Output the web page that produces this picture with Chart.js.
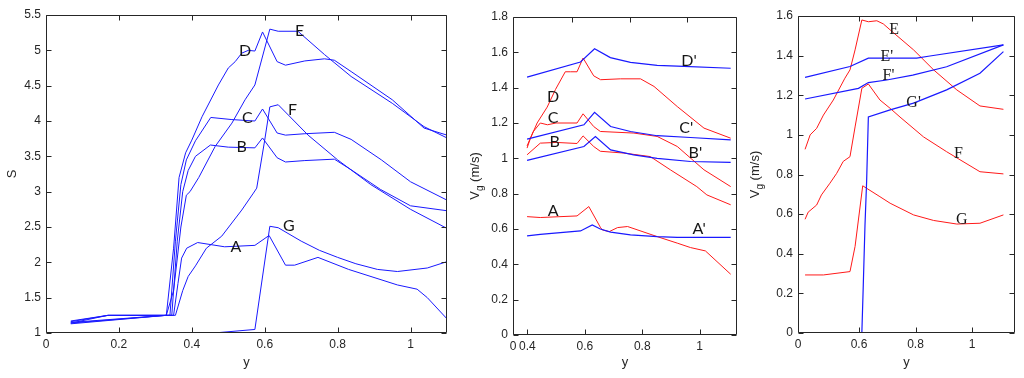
<!DOCTYPE html>
<html><head><meta charset="utf-8">
<script src="https://cdn.jsdelivr.net/npm/chart.js@4.4.0/dist/chart.umd.min.js"></script>
<style>
html,body{margin:0;padding:0;background:#fff;width:1024px;height:378px;overflow:hidden}
canvas{position:absolute;top:0}
</style></head><body>
<canvas id="c1" width="460" height="378" style="left:0px"></canvas>
<canvas id="c2" width="290" height="378" style="left:460px"></canvas>
<canvas id="c3" width="274" height="378" style="left:750px"></canvas>
<script>
// ---------- Panel 1 : S vs y ----------
const p1_xTicks = [0, 0.2, 0.4, 0.6, 0.8, 1];
const p1_xLabels = ["0", "0.2", "0.4", "0.6", "0.8", "1"];
const p1_yTicks = [1, 1.5, 2, 2.5, 3, 3.5, 4, 4.5, 5, 5.5];
const p1_yLabels = ["1", "1.5", "2", "2.5", "3", "3.5", "4", "4.5", "5", "5.5"];

const A_x = [0.068,0.17,0.35,0.362,0.372,0.386,0.416,0.49,0.573,0.612,0.657,0.682,0.746,0.83,0.964,1.018,1.046,1.1];
const A_y = [1.14,1.25,1.25,1.7,2.06,2.2,2.28,2.22,2.24,2.38,1.96,1.96,2.07,1.9,1.68,1.62,1.5,1.2];
const B_x = [0.068,0.33,0.345,0.36,0.375,0.39,0.41,0.451,0.5,0.573,0.594,0.634,0.657,0.71,0.791,0.837,0.918,1.0,1.1];
const B_y = [1.15,1.25,1.25,2.3,3.0,3.3,3.5,3.66,3.63,3.62,3.76,3.48,3.42,3.44,3.46,3.31,3.03,2.8,2.73];
const C_x = [0.068,0.17,0.34,0.355,0.37,0.385,0.41,0.452,0.51,0.573,0.594,0.634,0.657,0.71,0.791,0.837,0.92,1.0,1.1];
const C_y = [1.16,1.25,1.25,2.3,3.1,3.45,3.72,4.05,4.02,4.0,4.17,3.83,3.8,3.82,3.84,3.74,3.45,3.14,2.88];
const D_x = [0.068,0.33,0.35,0.365,0.383,0.40,0.428,0.473,0.5,0.519,0.537,0.555,0.573,0.594,0.634,0.657,0.71,0.764,0.791,0.837,0.95,1.037,1.1];
const D_y = [1.13,1.25,2.2,3.2,3.55,3.73,4.06,4.51,4.75,4.84,4.96,5.0,4.99,5.26,4.84,4.79,4.85,4.88,4.86,4.70,4.3,3.9,3.8];
const E_x = [0.068,0.33,0.35,0.37,0.385,0.395,0.419,0.464,0.51,0.546,0.573,0.614,0.637,0.691,0.764,0.837,0.95,1.037,1.1];
const E_y = [1.14,1.25,1.6,2.5,2.95,3.0,3.2,3.64,3.97,4.3,4.51,5.3,5.27,5.27,4.94,4.63,4.25,3.92,3.76];
const F_x = [0.068,0.17,0.355,0.375,0.39,0.41,0.44,0.482,0.537,0.569,0.578,0.6,0.614,0.637,0.719,0.8,0.891,1.0,1.1];
const F_y = [1.17,1.25,1.25,1.6,1.8,1.95,2.2,2.37,2.74,2.98,3.05,3.73,4.2,4.23,3.8,3.45,3.1,2.75,2.48];
const G_x = [0.46,0.573,0.614,0.637,0.7,0.75,0.8,0.85,0.909,0.964,1.046,1.1];
const G_y = [1.0,1.05,2.51,2.49,2.3,2.17,2.07,1.98,1.9,1.87,1.92,2.01];
const p1_names = ["D","E","C","F","B","G","A"];
const p1_nameX = [0.546,0.696,0.552,0.676,0.537,0.666,0.521];
const p1_nameY = [4.99,5.27,4.04,4.16,3.64,2.51,2.22];

// ---------- Panel 2 : Vg vs y ----------
const p2_xTicks = [0.35, 0.4, 0.6, 0.8, 1];
const p2_xLabels = ["0", "0.4", "0.6", "0.8", "1"];
const p2_yTicks = [0, 0.2, 0.4, 0.6, 0.8, 1, 1.2, 1.4, 1.6, 1.8];
const p2_yLabels = ["0", "0.2", "0.4", "0.6", "0.8", "1", "1.2", "1.4", "1.6", "1.8"];

const Dp_x = [0.399,0.585,0.634,0.689,0.759,0.852,0.945,1.108];
const Dp_y = [1.46,1.545,1.62,1.57,1.543,1.526,1.52,1.51];
const Cp_x = [0.399,0.597,0.634,0.69,0.759,0.852,0.968,1.108];
const Cp_y = [1.109,1.19,1.26,1.18,1.152,1.128,1.118,1.105];
const Bp_x = [0.399,0.597,0.637,0.69,0.77,0.852,0.968,1.108];
const Bp_y = [0.988,1.067,1.124,1.048,1.02,1.0,0.982,0.977];
const Ap_x = [0.399,0.445,0.585,0.626,0.654,0.69,0.759,0.852,0.922,1.108];
const Ap_y = [0.561,0.57,0.589,0.623,0.6,0.582,0.567,0.557,0.553,0.553];
const Dr_x = [0.399,0.41,0.434,0.469,0.498,0.532,0.55,0.573,0.594,0.631,0.655,0.724,0.794,0.841,0.922,1.015,1.108];
const Dr_y = [1.058,1.11,1.2,1.29,1.39,1.49,1.49,1.49,1.568,1.467,1.445,1.45,1.45,1.407,1.293,1.171,1.114];
const Cr_x = [0.399,0.42,0.445,0.47,0.5,0.573,0.594,0.631,0.654,0.771,0.852,0.922,1.015,1.108];
const Cr_y = [1.07,1.15,1.2,1.19,1.2,1.2,1.252,1.18,1.152,1.143,1.124,1.067,0.935,0.84];
const Br_x = [0.399,0.445,0.5,0.573,0.594,0.631,0.654,0.735,0.828,0.898,0.99,1.025,1.108];
const Br_y = [1.02,1.086,1.09,1.084,1.127,1.067,1.04,1.03,1.01,0.935,0.84,0.793,0.737];
const Ar_x = [0.399,0.445,0.573,0.614,0.654,0.661,0.685,0.714,0.749,0.852,0.922,0.968,1.02,1.108];
const Ar_y = [0.67,0.665,0.674,0.727,0.61,0.595,0.585,0.608,0.614,0.557,0.52,0.495,0.476,0.344];
const p2_names = ["D","C","B","A","D'","C'","B'","A'"];
const p2_nameX = [0.49,0.49,0.495,0.49,0.963,0.953,0.985,0.998];
const p2_nameY = [1.35,1.228,1.095,0.70,1.55,1.17,1.03,0.60];

// ---------- Panel 3 : Vg vs y ----------
const p3_xTicks = [0.384, 0.6, 0.8, 1];
const p3_xLabels = ["0", "0.6", "0.8", "1"];
const p3_yTicks = [0, 0.2, 0.4, 0.6, 0.8, 1, 1.2, 1.4, 1.6];
const p3_yLabels = ["0", "0.2", "0.4", "0.6", "0.8", "1", "1.2", "1.4", "1.6"];

const Ep_x = [0.409,0.568,0.633,0.686,0.804,0.851,1.111];
const Ep_y = [1.29,1.345,1.387,1.387,1.387,1.398,1.454];
const Fp_x = [0.409,0.598,0.633,0.698,0.79,0.91,1.111];
const Fp_y = [1.181,1.235,1.264,1.277,1.302,1.344,1.454];
const Gp_x = [0.61,0.615,0.621,0.627,0.633,0.71,0.793,0.91,1.028,1.111];
const Gp_y = [0,0.24,0.54,0.77,1.09,1.126,1.16,1.227,1.311,1.42];
const Er_x = [0.409,0.427,0.45,0.474,0.509,0.55,0.568,0.586,0.61,0.633,0.663,0.686,0.71,0.793,0.864,0.946,1.028,1.111];
const Er_y = [0.927,1.0,1.033,1.1,1.176,1.286,1.328,1.429,1.58,1.571,1.576,1.56,1.53,1.429,1.328,1.227,1.146,1.129];
const Fr_x = [0.409,0.42,0.45,0.467,0.497,0.521,0.544,0.568,0.586,0.61,0.633,0.674,0.71,0.745,0.828,0.91,1.028,1.111];
const Fr_y = [0.574,0.61,0.646,0.697,0.756,0.806,0.866,0.89,1.04,1.235,1.257,1.176,1.134,1.09,0.99,0.915,0.814,0.803];
const Gr_x = [0.409,0.474,0.568,0.586,0.613,0.674,0.71,0.793,0.864,0.946,1.028,1.111];
const Gr_y = [0.293,0.293,0.31,0.437,0.743,0.688,0.655,0.596,0.568,0.55,0.554,0.596];
const p3_names = ["E","E'","F'","G'","F","G"];
const p3_nameX = [0.724,0.698,0.704,0.793,0.952,0.964];
const p3_nameY = [1.53,1.395,1.297,1.163,0.904,0.572];

// ---------- helpers ----------
const BLUE = 'rgb(25,25,255)';
const RED = 'rgb(255,25,25)';
const AXIS = '#262626';
function pts(xs, ys) { return xs.map((x, i) => ({x: x, y: ys[i]})); }
function line(xs, ys, color, w) {
  return {data: pts(xs, ys), borderColor: color, borderWidth: w || 1, showLine: true,
          pointRadius: 0, pointHoverRadius: 0, fill: false, tension: 0};
}
function names(t, xs, ys) { return t.map((s, i) => ({t: s, x: xs[i], y: ys[i]})); }

const framePlugin = {
  id: 'frame',
  afterDraw(chart, args, o) {
    const ctx = chart.ctx, a = chart.chartArea, sx = chart.scales.x, sy = chart.scales.y;
    const L = Math.round(a.left) + 0.5, R = Math.round(a.right) - 0.5;
    const T = Math.round(a.top) + 0.5, B = Math.round(a.bottom) - 0.5;
    ctx.save();
    ctx.strokeStyle = AXIS; ctx.lineWidth = 1;
    ctx.beginPath(); ctx.rect(L, T, R - L, B - T); ctx.stroke();
    const tl = 5;
    ctx.beginPath();
    sx.ticks.forEach(t => { const p = Math.round(sx.getPixelForValue(t.value)) + 0.5; ctx.moveTo(p, B); ctx.lineTo(p, B - tl); });
    (o.topTicks || sx.ticks.map(t => t.value)).forEach(v => { const p = Math.round(sx.getPixelForValue(v)) + 0.5; ctx.moveTo(p, T); ctx.lineTo(p, T + tl); });
    sy.ticks.forEach(t => { const p = Math.round(sy.getPixelForValue(t.value)) + 0.5; ctx.moveTo(L, p); ctx.lineTo(L + tl, p); ctx.moveTo(R, p); ctx.lineTo(R - tl, p); });
    ctx.stroke();
    // curve names
    ctx.fillStyle = '#161616';
    ctx.font = o.nameFont;
    ctx.textAlign = 'center'; ctx.textBaseline = 'middle';
    (o.names || []).forEach(n => ctx.fillText(n.t, sx.getPixelForValue(n.x), sy.getPixelForValue(n.y)));
    // V_g (m/s) axis title
    if (o.vtitle) {
      ctx.translate(o.vtitle.x, (a.top + a.bottom) / 2);
      ctx.rotate(-Math.PI / 2);
      ctx.fillStyle = AXIS; ctx.textBaseline = 'alphabetic'; ctx.textAlign = 'left';
      const big = '13px "Liberation Sans", Arial, sans-serif', small = '10px "Liberation Sans", Arial, sans-serif';
      ctx.font = big; const w1 = ctx.measureText('V').width; const w3 = ctx.measureText(' (m/s)').width;
      ctx.font = small; const w2 = ctx.measureText('g').width;
      let x0 = -(w1 + w2 + w3) / 2;
      ctx.font = big; ctx.fillText('V', x0, 4);
      ctx.font = small; ctx.fillText('g', x0 + w1, 8);
      ctx.font = big; ctx.fillText(' (m/s)', x0 + w1 + w2, 4);
    }
    ctx.restore();
  }
};

function makeChart(id, cfg) {
  const tickFont = {family: '"Liberation Sans", Arial, sans-serif', size: 12};
  return new Chart(document.getElementById(id), {
    type: 'scatter',
    data: {datasets: cfg.datasets},
    plugins: [framePlugin],
    options: {
      responsive: false, animation: false, devicePixelRatio: 1,
      layout: {padding: {left: 0, top: cfg.padTop, right: cfg.padRight, bottom: 0}},
      plugins: {legend: {display: false}, tooltip: {enabled: false},
        frame: {names: cfg.names, nameFont: cfg.nameFont, vtitle: cfg.vtitle, topTicks: cfg.topTicks}},
      scales: {
        x: {type: 'linear', min: cfg.xMin, max: cfg.xMax,
          afterBuildTicks: s => { s.ticks = cfg.xTicks.map(v => ({value: v})); },
          afterFit: s => { s.height = cfg.xH; },
          grid: {display: false, drawTicks: false}, border: {display: false},
          ticks: {callback: (v, i) => cfg.xLabels[i], font: tickFont, color: AXIS, padding: 4, maxRotation: 0, autoSkip: false},
          title: {display: true, text: 'y', color: AXIS, font: {family: '"Liberation Sans", Arial, sans-serif', size: 13}, padding: {top: 0, bottom: 8}}},
        y: {type: 'linear', min: cfg.yMin, max: cfg.yMax,
          afterBuildTicks: s => { s.ticks = cfg.yTicks.map(v => ({value: v})); },
          afterFit: s => { s.width = cfg.yW; },
          grid: {display: false, drawTicks: false}, border: {display: false},
          ticks: {callback: (v, i) => cfg.yLabels[i], font: tickFont, color: AXIS, padding: 5, autoSkip: false},
          title: {display: !!cfg.yTitle, text: cfg.yTitle || '', color: AXIS, font: {family: '"Liberation Sans", Arial, sans-serif', size: 13}, padding: {top: 5, bottom: 0}}}
      }
    }
  });
}

makeChart('c1', {
  datasets: [line(A_x, A_y, BLUE), line(B_x, B_y, BLUE), line(C_x, C_y, BLUE), line(D_x, D_y, BLUE),
             line(E_x, E_y, BLUE), line(F_x, F_y, BLUE), line(G_x, G_y, BLUE)],
  xMin: 0, xMax: 1.1, yMin: 1, yMax: 5.5,
  xTicks: p1_xTicks, xLabels: p1_xLabels, yTicks: p1_yTicks, yLabels: p1_yLabels,
  padTop: 15, padRight: 13, xH: 45, yW: 46, yTitle: 'S',
  names: names(p1_names, p1_nameX, p1_nameY), nameFont: '16px Lato, "Open Sans", sans-serif'
});

makeChart('c2', {
  datasets: [line(Dp_x, Dp_y, BLUE, 1.2), line(Cp_x, Cp_y, BLUE, 1.2), line(Bp_x, Bp_y, BLUE, 1.2), line(Ap_x, Ap_y, BLUE, 1.2),
             line(Dr_x, Dr_y, RED), line(Cr_x, Cr_y, RED), line(Br_x, Br_y, RED), line(Ar_x, Ar_y, RED)],
  xMin: 0.35, xMax: 1.13, yMin: 0, yMax: 1.8,
  xTicks: p2_xTicks, xLabels: p2_xLabels, yTicks: p2_yTicks, yLabels: p2_yLabels,
  padTop: 17, padRight: 13, xH: 43, yW: 53,
  topTicks: [0.556, 0.756, 0.956],
  names: names(p2_names, p2_nameX, p2_nameY), nameFont: '16px Lato, "Open Sans", sans-serif',
  vtitle: {x: 15}
});

makeChart('c3', {
  datasets: [line(Ep_x, Ep_y, BLUE, 1.2), line(Fp_x, Fp_y, BLUE, 1.2), line(Gp_x, Gp_y, BLUE, 1.2),
             line(Er_x, Er_y, RED), line(Fr_x, Fr_y, RED), line(Gr_x, Gr_y, RED)],
  xMin: 0.384, xMax: 1.152, yMin: 0, yMax: 1.6,
  xTicks: p3_xTicks, xLabels: p3_xLabels, yTicks: p3_yTicks, yLabels: p3_yLabels,
  padTop: 16, padRight: 9, xH: 45, yW: 48,
  names: names(p3_names, p3_nameX, p3_nameY), nameFont: '16px "Liberation Serif", "DejaVu Serif", serif',
  vtitle: {x: 5}
});
</script>
</body></html>
